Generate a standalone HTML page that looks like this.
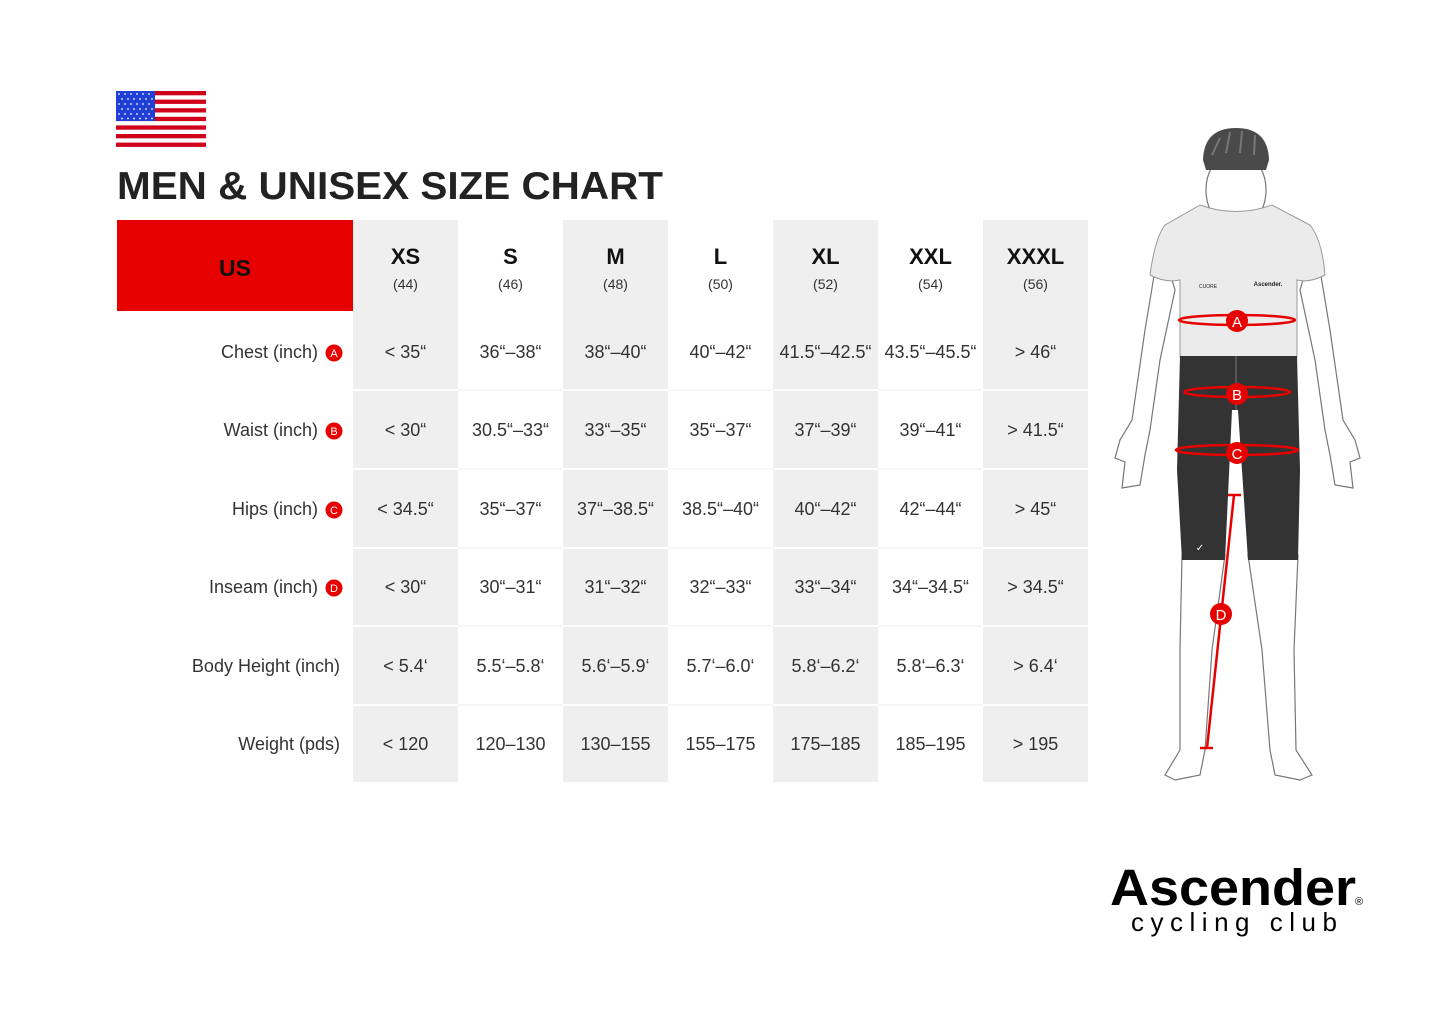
<!DOCTYPE html>
<html><head><meta charset="utf-8"><style>
html,body{margin:0;padding:0;background:#fff;}
svg{display:block;font-family:"Liberation Sans",sans-serif;}
</style></head><body>
<svg width="1445" height="1018" viewBox="0 0 1445 1018" xmlns="http://www.w3.org/2000/svg">
<rect width="1445" height="1018" fill="#fff"/>
<!-- flag -->
<g>
<rect x="116" y="91" width="90" height="56" fill="#fff"/>
<g fill="#d0021b">
<rect x="116" y="91" width="90" height="4.3"/><rect x="116" y="99.6" width="90" height="4.3"/>
<rect x="116" y="108.2" width="90" height="4.3"/><rect x="116" y="116.8" width="90" height="4.3"/>
<rect x="116" y="125.4" width="90" height="4.3"/><rect x="116" y="134" width="90" height="4.3"/>
<rect x="116" y="142.6" width="90" height="4.3"/>
</g>
<rect x="116" y="91" width="39" height="30" fill="#1f3fd6"/>
<g fill="#fff">
<circle cx="119" cy="94" r="0.9"/><circle cx="125" cy="94" r="0.9"/><circle cx="131" cy="94" r="0.9"/><circle cx="137" cy="94" r="0.9"/><circle cx="143" cy="94" r="0.9"/><circle cx="149" cy="94" r="0.9"/>
<circle cx="122" cy="99" r="0.9"/><circle cx="128" cy="99" r="0.9"/><circle cx="134" cy="99" r="0.9"/><circle cx="140" cy="99" r="0.9"/><circle cx="146" cy="99" r="0.9"/><circle cx="152" cy="99" r="0.9"/>
<circle cx="119" cy="104" r="0.9"/><circle cx="125" cy="104" r="0.9"/><circle cx="131" cy="104" r="0.9"/><circle cx="137" cy="104" r="0.9"/><circle cx="143" cy="104" r="0.9"/><circle cx="149" cy="104" r="0.9"/>
<circle cx="122" cy="109" r="0.9"/><circle cx="128" cy="109" r="0.9"/><circle cx="134" cy="109" r="0.9"/><circle cx="140" cy="109" r="0.9"/><circle cx="146" cy="109" r="0.9"/><circle cx="152" cy="109" r="0.9"/>
<circle cx="119" cy="114" r="0.9"/><circle cx="125" cy="114" r="0.9"/><circle cx="131" cy="114" r="0.9"/><circle cx="137" cy="114" r="0.9"/><circle cx="143" cy="114" r="0.9"/><circle cx="149" cy="114" r="0.9"/>
<circle cx="122" cy="118.5" r="0.9"/><circle cx="128" cy="118.5" r="0.9"/><circle cx="134" cy="118.5" r="0.9"/><circle cx="140" cy="118.5" r="0.9"/><circle cx="146" cy="118.5" r="0.9"/><circle cx="152" cy="118.5" r="0.9"/>
</g>
</g>
<text x="117" y="199" font-size="39" font-weight="bold" fill="#222" textLength="546" lengthAdjust="spacingAndGlyphs">MEN &amp; UNISEX SIZE CHART</text>

<!-- table columns -->
<rect x="117" y="220" width="236" height="91" fill="#e60000"/>
<text x="235" y="276" font-size="23" font-weight="bold" fill="#111" text-anchor="middle">US</text>
<g fill="#efefef">
<rect x="353" y="220" width="105" height="562"/>
<rect x="563" y="220" width="105" height="562"/>
<rect x="773" y="220" width="105" height="562"/>
<rect x="983" y="220" width="105" height="562"/>
</g>
<g stroke="#fff" stroke-width="2">
<line x1="353" y1="390" x2="1088" y2="390"/><line x1="353" y1="469" x2="1088" y2="469"/>
<line x1="353" y1="548" x2="1088" y2="548"/><line x1="353" y1="626" x2="1088" y2="626"/>
<line x1="353" y1="705" x2="1088" y2="705"/>
</g>
<g stroke="#f3f3f3" stroke-width="1.5">
<line x1="458" y1="390" x2="563" y2="390"/><line x1="668" y1="390" x2="773" y2="390"/><line x1="878" y1="390" x2="983" y2="390"/>
<line x1="458" y1="469" x2="563" y2="469"/><line x1="668" y1="469" x2="773" y2="469"/><line x1="878" y1="469" x2="983" y2="469"/>
<line x1="458" y1="548" x2="563" y2="548"/><line x1="668" y1="548" x2="773" y2="548"/><line x1="878" y1="548" x2="983" y2="548"/>
<line x1="458" y1="626" x2="563" y2="626"/><line x1="668" y1="626" x2="773" y2="626"/><line x1="878" y1="626" x2="983" y2="626"/>
<line x1="458" y1="705" x2="563" y2="705"/><line x1="668" y1="705" x2="773" y2="705"/><line x1="878" y1="705" x2="983" y2="705"/>
</g>
<g text-anchor="middle" fill="#111">
<g font-size="22" font-weight="bold">
<text x="405.5" y="264">XS</text><text x="510.5" y="264">S</text><text x="615.5" y="264">M</text><text x="720.5" y="264">L</text><text x="825.5" y="264">XL</text><text x="930.5" y="264">XXL</text><text x="1035.5" y="264">XXXL</text>
</g>
<g font-size="14" fill="#333">
<text x="405.5" y="289">(44)</text><text x="510.5" y="289">(46)</text><text x="615.5" y="289">(48)</text><text x="720.5" y="289">(50)</text><text x="825.5" y="289">(52)</text><text x="930.5" y="289">(54)</text><text x="1035.5" y="289">(56)</text>
</g>
</g>
<!-- row labels -->
<g font-size="18" fill="#333" text-anchor="end">
<text x="318" y="358">Chest (inch)</text>
<text x="318" y="436">Waist (inch)</text>
<text x="318" y="515">Hips (inch)</text>
<text x="318" y="593">Inseam (inch)</text>
<text x="340" y="672">Body Height (inch)</text>
<text x="340" y="750">Weight (pds)</text>
</g>
<g fill="#e60000"><circle cx="334" cy="353" r="8.5"/><circle cx="334" cy="431" r="8.5"/><circle cx="334" cy="510" r="8.5"/><circle cx="334" cy="588" r="8.5"/></g>
<g fill="#fff" font-size="11" text-anchor="middle"><text x="334" y="357">A</text><text x="334" y="435">B</text><text x="334" y="514">C</text><text x="334" y="592">D</text></g>
<!-- values -->
<g font-size="18" fill="#333" text-anchor="middle">
<text x="405.5" y="358">&lt; 35“</text><text x="510.5" y="358">36“–38“</text><text x="615.5" y="358">38“–40“</text><text x="720.5" y="358">40“–42“</text><text x="825.5" y="358">41.5“–42.5“</text><text x="930.5" y="358">43.5“–45.5“</text><text x="1035.5" y="358">&gt; 46“</text>
<text x="405.5" y="436">&lt; 30“</text><text x="510.5" y="436">30.5“–33“</text><text x="615.5" y="436">33“–35“</text><text x="720.5" y="436">35“–37“</text><text x="825.5" y="436">37“–39“</text><text x="930.5" y="436">39“–41“</text><text x="1035.5" y="436">&gt; 41.5“</text>
<text x="405.5" y="515">&lt; 34.5“</text><text x="510.5" y="515">35“–37“</text><text x="615.5" y="515">37“–38.5“</text><text x="720.5" y="515">38.5“–40“</text><text x="825.5" y="515">40“–42“</text><text x="930.5" y="515">42“–44“</text><text x="1035.5" y="515">&gt; 45“</text>
<text x="405.5" y="593">&lt; 30“</text><text x="510.5" y="593">30“–31“</text><text x="615.5" y="593">31“–32“</text><text x="720.5" y="593">32“–33“</text><text x="825.5" y="593">33“–34“</text><text x="930.5" y="593">34“–34.5“</text><text x="1035.5" y="593">&gt; 34.5“</text>
<text x="405.5" y="672">&lt; 5.4‘</text><text x="510.5" y="672">5.5‘–5.8‘</text><text x="615.5" y="672">5.6‘–5.9‘</text><text x="720.5" y="672">5.7‘–6.0‘</text><text x="825.5" y="672">5.8‘–6.2‘</text><text x="930.5" y="672">5.8‘–6.3‘</text><text x="1035.5" y="672">&gt; 6.4‘</text>
<text x="405.5" y="750">&lt; 120</text><text x="510.5" y="750">120–130</text><text x="615.5" y="750">130–155</text><text x="720.5" y="750">155–175</text><text x="825.5" y="750">175–185</text><text x="930.5" y="750">185–195</text><text x="1035.5" y="750">&gt; 195</text>
</g>

<!-- figure -->
<g stroke="#777" stroke-width="1.2" fill="#fff">
<!-- arms -->
<path d="M1160 240 L1145 330 L1132 420 L1120 440 L1115 458 L1125 462 L1122 488 L1140 485 L1145 455 L1150 430 L1160 360 L1175 290 Z"/>
<path d="M1315 240 L1330 330 L1343 420 L1355 440 L1360 458 L1350 462 L1353 488 L1335 485 L1330 455 L1325 430 L1315 360 L1300 290 Z"/>
<!-- legs -->
<path d="M1182 555 L1180 650 L1180 750 L1165 775 L1175 780 L1200 775 L1205 750 L1212 650 L1225 555 Z"/>
<path d="M1248 555 L1262 650 L1270 750 L1275 775 L1300 780 L1312 775 L1296 750 L1294 650 L1298 555 Z"/>
<!-- neck/head -->
<path d="M1218 200 L1218 225 L1254 225 L1254 200 Z"/>
<ellipse cx="1236" cy="190" rx="30" ry="38"/>
</g>
<path d="M1203 160 Q1204 128 1236 128 Q1268 128 1269 160 L1266 170 L1206 170 Z" fill="#4a4a4a"/>
<path d="M1212 155 L1220 138 M1226 153 L1230 132 M1240 153 L1242 131 M1254 155 L1255 135" stroke="#777" stroke-width="2"/>
<!-- shirt -->
<path d="M1200 205 Q1236 218 1272 205 L1310 225 Q1322 240 1325 275 Q1310 283 1297 280 L1297 357 L1180 357 L1180 280 Q1165 283 1150 275 Q1155 238 1165 225 Z" fill="#ebebeb" stroke="#999" stroke-width="1"/>
<text x="1208" y="288" font-size="5" text-anchor="middle" fill="#222">CUORE</text>
<text x="1268" y="286" font-size="6" font-weight="bold" text-anchor="middle" fill="#222">Ascender.</text>
<!-- shorts -->
<path d="M1180 356 L1297 356 L1300 470 L1298 560 L1248 560 L1238 410 L1232 410 L1225 560 L1182 560 L1177 470 Z" fill="#333"/>
<line x1="1236" y1="356" x2="1236" y2="410" stroke="#777" stroke-width="1"/>
<text x="1200" y="551" font-size="10" fill="#fff" text-anchor="middle">✓</text>
<!-- measure lines -->
<g stroke="#e60000" stroke-width="2.5" fill="none">
<ellipse cx="1237" cy="320" rx="58" ry="5"/>
<ellipse cx="1237" cy="392" rx="53" ry="5"/>
<ellipse cx="1237" cy="450" rx="61" ry="5"/>
<line x1="1234" y1="495" x2="1207" y2="748"/>
<line x1="1228" y1="495" x2="1241" y2="495"/>
<line x1="1200" y1="748" x2="1213" y2="748"/>
</g>
<g fill="#e60000"><circle cx="1237" cy="321" r="11"/><circle cx="1237" cy="394" r="11"/><circle cx="1237" cy="453" r="11"/><circle cx="1221" cy="614" r="11"/></g>
<g fill="#fff" font-size="15" text-anchor="middle"><text x="1237" y="327">A</text><text x="1237" y="400">B</text><text x="1237" y="459">C</text><text x="1221" y="620">D</text></g>

<!-- logo -->
<text x="1110" y="905" font-size="51" font-weight="bold" fill="#000" textLength="246" lengthAdjust="spacingAndGlyphs">Ascender</text>
<text x="1355" y="905" font-size="11" fill="#000">®</text>
<text x="1131" y="931" font-size="26" fill="#000" textLength="206" lengthAdjust="spacing">cycling club</text>
</svg>
</body></html>
